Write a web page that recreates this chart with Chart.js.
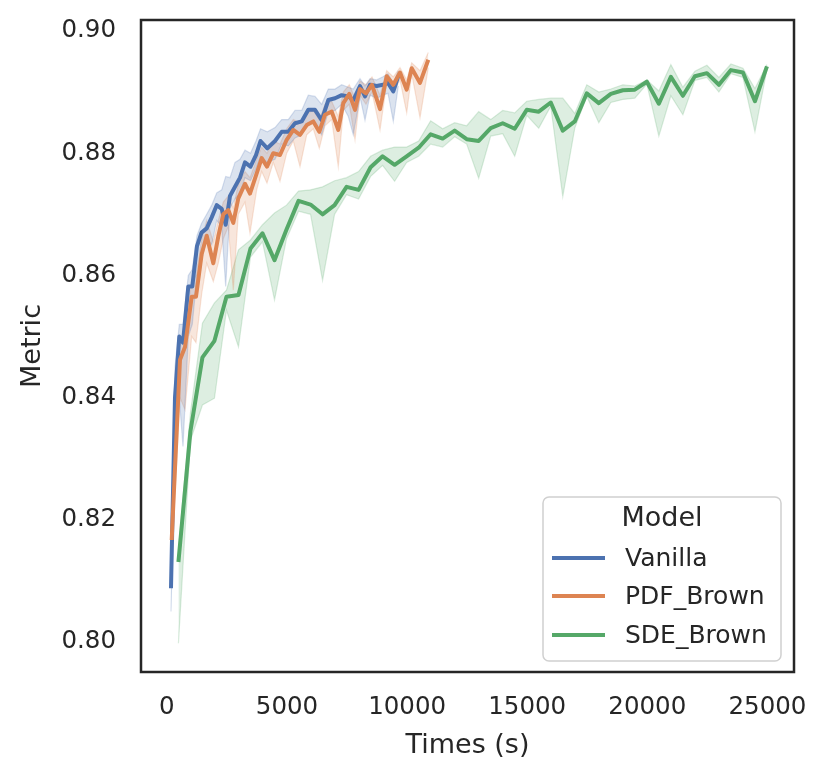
<!DOCTYPE html>
<html>
<head>
<meta charset="utf-8">
<script src="https://cdn.jsdelivr.net/npm/chart.js@4.4.1/dist/chart.umd.min.js"></script>
<style>
html,body{margin:0;padding:0;background:#ffffff;}
canvas{display:block;}
</style>
</head>
<body>
<canvas id="c" width="829" height="782"></canvas>
<script>
// ---------------- data ----------------
const models = ['Vanilla', 'PDF_Brown', 'SDE_Brown'];
const xTickValues = [0, 5000, 10000, 15000, 20000, 25000];
const yTickValues = [0.80, 0.82, 0.84, 0.86, 0.88, 0.90];

const vanillaTimes = [171,337,516,670,891,1057,1253,1440,1657,1865,2073,2281,2448,2627,2835,3043,3251,3480,3709,3897,4180,4501,4779,5054,5333,5612,5886,6165,6444,6719,6998,7277,7552,7760,8039,8247,8455,8734,8996,9204,9425,9633];
const vanillaMean = [0.8088,0.8400,0.8500,0.8490,0.8582,0.8582,0.8648,0.8670,0.8677,0.8695,0.8715,0.8709,0.8683,0.8730,0.8745,0.8760,0.8785,0.8778,0.8797,0.8820,0.8808,0.8820,0.8835,0.8835,0.8849,0.8852,0.8871,0.8871,0.8854,0.8887,0.8890,0.8895,0.8893,0.8887,0.8910,0.8893,0.8912,0.8910,0.8912,0.8915,0.8901,0.8926];
const vanillaLow = [0.8050,0.8340,0.8400,0.8320,0.8500,0.8520,0.8600,0.8625,0.8660,0.8650,0.8690,0.8680,0.8582,0.8710,0.8725,0.8735,0.8760,0.8755,0.8775,0.8795,0.8785,0.8790,0.8815,0.8812,0.8825,0.8830,0.8850,0.8850,0.8830,0.8868,0.8870,0.8880,0.8860,0.8830,0.8892,0.8854,0.8895,0.8890,0.8895,0.8898,0.8852,0.8910];
const vanillaHigh = [0.8120,0.8450,0.8520,0.8520,0.8600,0.8610,0.8665,0.8685,0.8700,0.8715,0.8735,0.8740,0.8762,0.8760,0.8785,0.8790,0.8805,0.8800,0.8820,0.8840,0.8835,0.8842,0.8855,0.8855,0.8870,0.8870,0.8895,0.8893,0.8880,0.8905,0.8905,0.8912,0.8908,0.8905,0.8922,0.8910,0.8922,0.8920,0.8925,0.8930,0.8915,0.8935];

const pdfTimes = [200,545,754,1032,1211,1449,1657,1932,2140,2348,2556,2764,2972,3251,3459,3738,3947,4167,4429,4708,4987,5262,5541,5820,6095,6344,6581,6861,7135,7344,7593,7831,8039,8289,8539,8872,9150,9425,9704,9983,10191,10537,10882];
const pdfMean = [0.8167,0.8462,0.8483,0.8565,0.8565,0.8635,0.8665,0.8620,0.8664,0.8700,0.8707,0.8686,0.8726,0.8750,0.8734,0.8767,0.8792,0.8778,0.8800,0.8797,0.8822,0.8838,0.8830,0.8846,0.8852,0.8835,0.8863,0.8868,0.8838,0.8882,0.8897,0.8871,0.8905,0.8898,0.8912,0.8872,0.8926,0.8912,0.8932,0.8904,0.8939,0.8915,0.8953];
const pdfLow = [0.8140,0.8400,0.8380,0.8500,0.8490,0.8570,0.8620,0.8590,0.8620,0.8660,0.8680,0.8576,0.8700,0.8720,0.8669,0.8740,0.8770,0.8751,0.8785,0.8754,0.8800,0.8820,0.8778,0.8830,0.8840,0.8808,0.8845,0.8855,0.8778,0.8870,0.8880,0.8822,0.8895,0.8880,0.8900,0.8838,0.8915,0.8900,0.8920,0.8866,0.8930,0.8858,0.8940];
const pdfHigh = [0.8195,0.8490,0.8510,0.8590,0.8600,0.8660,0.8690,0.8655,0.8690,0.8720,0.8730,0.8710,0.8750,0.8770,0.8760,0.8790,0.8810,0.8800,0.8820,0.8815,0.8840,0.8855,0.8850,0.8865,0.8870,0.8855,0.8880,0.8885,0.8860,0.8900,0.8912,0.8890,0.8918,0.8912,0.8925,0.8895,0.8935,0.8925,0.8940,0.8920,0.8948,0.8935,0.8965];

const sdeTimes = [480,980,1480,1980,2480,2980,3480,3980,4480,4980,5480,5980,6480,6980,7480,7980,8480,8980,9480,9980,10480,10980,11480,11980,12480,12980,13480,13980,14480,14980,15480,15980,16480,16980,17480,17980,18480,18980,19480,19980,20480,20980,21480,21980,22480,22980,23480,23980,24480,24980];
const sdeMean = [0.8131,0.8345,0.8466,0.8493,0.8565,0.8568,0.8644,0.8669,0.8625,0.8675,0.8722,0.8716,0.8700,0.8715,0.8745,0.8740,0.8777,0.8795,0.8781,0.8795,0.8809,0.8831,0.8824,0.8837,0.8823,0.8820,0.8841,0.8849,0.8840,0.8871,0.8868,0.8883,0.8837,0.8852,0.8898,0.8882,0.8897,0.8903,0.8904,0.8917,0.8881,0.8925,0.8894,0.8926,0.8931,0.8912,0.8936,0.8932,0.8885,0.8942];
const sdeLow = [0.7998,0.8330,0.8388,0.8399,0.8543,0.8483,0.8630,0.8655,0.8560,0.8660,0.8705,0.8700,0.8592,0.8700,0.8732,0.8725,0.8762,0.8780,0.8754,0.8785,0.8795,0.8815,0.8810,0.8827,0.8815,0.8759,0.8828,0.8832,0.8795,0.8862,0.8841,0.8877,0.8729,0.8841,0.8893,0.8850,0.8883,0.8888,0.8890,0.8913,0.8828,0.8894,0.8863,0.8919,0.8924,0.8900,0.8930,0.8924,0.8835,0.8937];
const sdeHigh = [0.8150,0.8375,0.8522,0.8555,0.8576,0.8642,0.8658,0.8683,0.8702,0.8715,0.8738,0.8740,0.8745,0.8755,0.8760,0.8770,0.8795,0.8805,0.8810,0.8810,0.8820,0.8853,0.8840,0.8850,0.8845,0.8868,0.8855,0.8870,0.8866,0.8885,0.8888,0.8890,0.8890,0.8865,0.8912,0.8900,0.8905,0.8912,0.8910,0.8920,0.8902,0.8945,0.8908,0.8934,0.8944,0.8924,0.8946,0.8939,0.8906,0.8945];

// ---------------- styling ----------------
const FONT = '"DejaVu Sans", "Liberation Sans", sans-serif';
const TEXT = '#262626';
const LINE_W = 4;
const colors = ['#4c72b0', '#dd8452', '#55a868'];
function rgba(hex, a) {
  const n = parseInt(hex.slice(1), 16);
  return `rgba(${(n >> 16) & 255},${(n >> 8) & 255},${n & 255},${a})`;
}
const zip = (xs, ys) => xs.map((x, i) => ({ x: x, y: ys[i] }));

const series = [
  { times: vanillaTimes, mean: vanillaMean, low: vanillaLow, high: vanillaHigh },
  { times: pdfTimes, mean: pdfMean, low: pdfLow, high: pdfHigh },
  { times: sdeTimes, mean: sdeMean, low: sdeLow, high: sdeHigh }
];

const datasets = [];
series.forEach((s, i) => {
  datasets.push({
    label: models[i],
    isMain: true,
    legendRank: i,
    data: zip(s.times, s.mean),
    borderColor: colors[i],
    backgroundColor: colors[i],
    borderWidth: LINE_W,
    pointRadius: 0,
    tension: 0,
    fill: false,
    borderJoinStyle: 'round',
    order: 2 - i
  });
});
series.forEach((s, i) => {
  datasets.push({
    label: models[i] + ' low',
    data: zip(s.times, s.low),
    borderColor: rgba(colors[i], 0.22),
    borderWidth: 1.2,
    pointRadius: 0,
    tension: 0,
    fill: false,
    order: 10 + i
  });
  datasets.push({
    label: models[i] + ' high',
    data: zip(s.times, s.high),
    borderColor: rgba(colors[i], 0.22),
    backgroundColor: rgba(colors[i], 0.2),
    borderWidth: 1.2,
    pointRadius: 0,
    tension: 0,
    fill: '-1',
    order: 10 + i
  });
});

const framePlugin = {
  id: 'frame',
  afterDatasetsDraw(chart) {
    const { ctx, chartArea: a } = chart;
    ctx.save();
    ctx.strokeStyle = TEXT;
    ctx.lineWidth = 2.5;
    ctx.strokeRect(a.left, a.top, a.right - a.left, a.bottom - a.top);
    ctx.restore();
  }
};

const boxLegend = {
  id: 'boxLegend',
  afterDraw(chart) {
    const { ctx, chartArea: a } = chart;
    const items = chart.data.datasets.filter(d => d.isMain).sort((p, q) => p.legendRank - q.legendRank);
    const w = 238, h = 164, r = 6;
    const x0 = a.right - 13 - w, y0 = a.bottom - 11 - h;
    ctx.save();
    ctx.beginPath();
    ctx.moveTo(x0 + r, y0);
    ctx.lineTo(x0 + w - r, y0);
    ctx.arcTo(x0 + w, y0, x0 + w, y0 + r, r);
    ctx.lineTo(x0 + w, y0 + h - r);
    ctx.arcTo(x0 + w, y0 + h, x0 + w - r, y0 + h, r);
    ctx.lineTo(x0 + r, y0 + h);
    ctx.arcTo(x0, y0 + h, x0, y0 + h - r, r);
    ctx.lineTo(x0, y0 + r);
    ctx.arcTo(x0, y0, x0 + r, y0, r);
    ctx.closePath();
    ctx.fillStyle = 'rgba(255,255,255,0.8)';
    ctx.fill();
    ctx.strokeStyle = '#d0d0d0';
    ctx.lineWidth = 1.5;
    ctx.stroke();

    ctx.fillStyle = TEXT;
    ctx.textBaseline = 'middle';
    ctx.textAlign = 'center';
    ctx.font = '27px ' + FONT;
    ctx.fillText('Model', x0 + w / 2, y0 + 22);

    const rows = [61, 99, 138];
    ctx.font = '25px ' + FONT;
    ctx.textAlign = 'left';
    items.forEach((d, k) => {
      const y = y0 + rows[k];
      ctx.strokeStyle = d.borderColor;
      ctx.lineWidth = LINE_W;
      ctx.beginPath();
      ctx.moveTo(x0 + 9, y);
      ctx.lineTo(x0 + 62, y);
      ctx.stroke();
      ctx.fillStyle = TEXT;
      ctx.fillText(d.label, x0 + 82, y + 1);
    });
    ctx.restore();
  }
};

new Chart(document.getElementById('c'), {
  type: 'line',
  data: { datasets: datasets },
  options: {
    responsive: false,
    animation: false,
    devicePixelRatio: 1,
    layout: { padding: { top: 20, right: 35, left: 0, bottom: 0 } },
    plugins: {
      legend: { display: false },
      tooltip: { enabled: false },
      filler: { propagate: false }
    },
    scales: {
      x: {
        type: 'linear',
        min: -1078,
        max: 26106,
        afterBuildTicks: s => { s.ticks = xTickValues.map(v => ({ value: v })); },
        afterFit: s => { s.height = 110; s.paddingLeft = 0; s.paddingRight = 0; },
        grid: { display: false, drawTicks: false },
        border: { display: false },
        ticks: {
          font: { family: FONT, size: 24.5 },
          color: TEXT,
          padding: 21,
          maxRotation: 0,
          autoSkip: false,
          callback: v => String(v)
        },
        title: {
          display: true,
          text: 'Times (s)',
          color: TEXT,
          font: { family: FONT, size: 27 },
          padding: { top: 0, bottom: 20 }
        }
      },
      y: {
        type: 'linear',
        min: 0.7951,
        max: 0.9018,
        afterBuildTicks: s => { s.ticks = yTickValues.map(v => ({ value: v })); },
        afterFit: s => { s.width = 141; s.paddingTop = 0; s.paddingBottom = 0; },
        grid: { display: false, drawTicks: false },
        border: { display: false },
        ticks: {
          font: { family: FONT, size: 24.5 },
          color: TEXT,
          padding: 25,
          autoSkip: false,
          callback: v => v.toFixed(2)
        },
        title: {
          display: true,
          text: 'Metric',
          color: TEXT,
          font: { family: FONT, size: 27 },
          padding: { top: 17, bottom: 0 }
        }
      }
    }
  },
  plugins: [framePlugin, boxLegend]
});
</script>
</body>
</html>
